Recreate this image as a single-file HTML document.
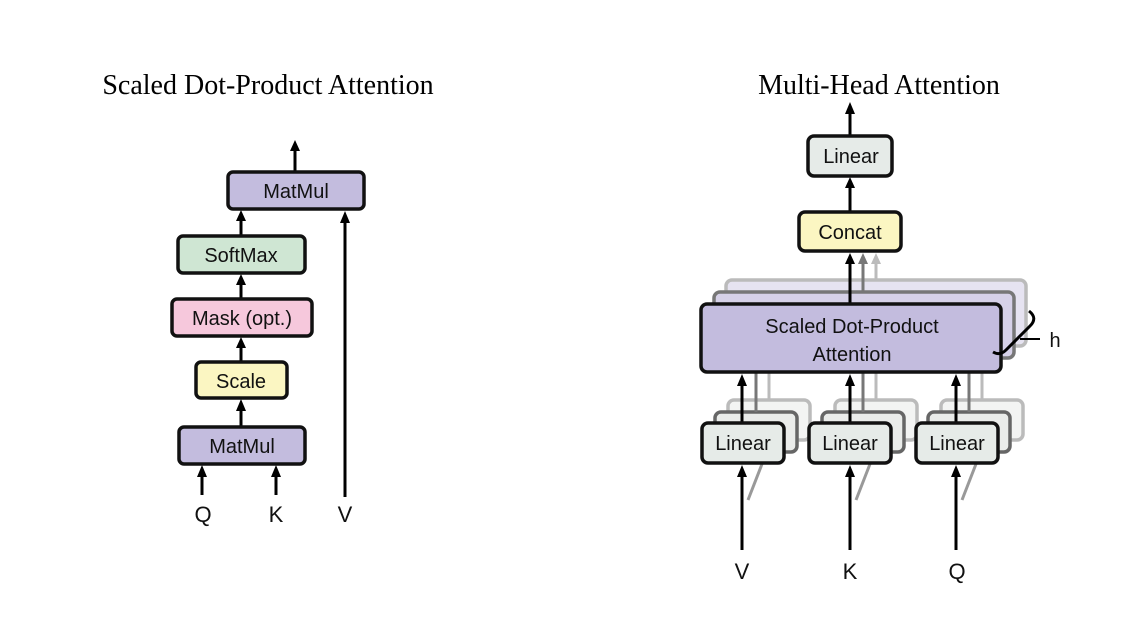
<!DOCTYPE html>
<html><head><meta charset="utf-8"><style>html,body{margin:0;padding:0;background:#fff}svg{display:block}</style></head>
<body>
<svg width="1124" height="644" viewBox="0 0 1124 644" xmlns="http://www.w3.org/2000/svg">
<defs>
<marker id="ah" markerWidth="4" markerHeight="4" refX="2" refY="3" orient="auto-start-reverse" viewBox="0 0 4 4" markerUnits="strokeWidth">
</marker>
</defs>
<g font-family="Liberation Serif, serif" font-size="28" fill="#000" text-anchor="middle">
<text x="268" y="94">Scaled Dot-Product Attention</text>
<text x="879" y="94">Multi-Head Attention</text>
</g>
<!-- LEFT -->
<g stroke="#000" stroke-width="3" fill="none">
<line x1="295" y1="172" x2="295" y2="148"/>
<line x1="345" y1="497" x2="345" y2="222"/>
<line x1="241" y1="236" x2="241" y2="220"/>
<line x1="241" y1="299" x2="241" y2="284"/>
<line x1="241" y1="362" x2="241" y2="347"/>
<line x1="241" y1="427" x2="241" y2="410"/>
<line x1="202" y1="495" x2="202" y2="476"/>
<line x1="276" y1="495" x2="276" y2="476"/>
</g>
<g fill="#000">
<polygon points="295,140 290,151 300,151"/>
<polygon points="345,211 340,223 350,223"/>
<polygon points="241,210 236,221 246,221"/>
<polygon points="241,274 236,285 246,285"/>
<polygon points="241,337 236,348 246,348"/>
<polygon points="241,399 236,411 246,411"/>
<polygon points="202,465 197,477 207,477"/>
<polygon points="276,465 271,477 281,477"/>
</g>
<g stroke="#111" stroke-width="3.5">
<rect x="228" y="172" width="136" height="37" rx="5" fill="#c3bcde"/>
<rect x="178" y="236" width="127" height="37" rx="5" fill="#cfe6d3"/>
<rect x="172" y="299" width="140" height="37" rx="5" fill="#f6c8dc"/>
<rect x="196" y="362" width="91" height="36" rx="5" fill="#fbf6c2"/>
<rect x="179" y="427" width="126" height="37" rx="5" fill="#c3bcde"/>
</g>
<g font-family="Liberation Sans, sans-serif" font-size="20" fill="#111" text-anchor="middle">
<text x="296" y="198">MatMul</text>
<text x="241" y="262">SoftMax</text>
<text x="242" y="325">Mask (opt.)</text>
<text x="241" y="388">Scale</text>
<text x="242" y="453">MatMul</text>
<text x="203" y="522" font-size="22">Q</text>
<text x="276" y="522" font-size="22">K</text>
<text x="345" y="522" font-size="22">V</text>
</g>
<!-- RIGHT -->
<!-- shadows of SDPA -->
<rect x="726" y="280" width="300" height="66" rx="6" fill="#e6e3f1" stroke="#bbb" stroke-width="3.5"/>
<rect x="714" y="292" width="300" height="66" rx="6" fill="#d6d1e8" stroke="#777" stroke-width="3.5"/>
<!-- linear shadows -->
<g stroke-width="3.5">
<rect x="728" y="400" width="82" height="40" rx="6" fill="#f3f4f3" stroke="#bbb"/>
<rect x="715" y="412" width="82" height="40" rx="6" fill="#eaecea" stroke="#666"/>
<rect x="835" y="400" width="82" height="40" rx="6" fill="#f3f4f3" stroke="#bbb"/>
<rect x="822" y="412" width="82" height="40" rx="6" fill="#eaecea" stroke="#666"/>
<rect x="941" y="400" width="82" height="40" rx="6" fill="#f3f4f3" stroke="#bbb"/>
<rect x="928" y="412" width="82" height="40" rx="6" fill="#eaecea" stroke="#666"/>
</g>
<!-- shadow connectors -->
<g stroke-width="3">
<line x1="769" y1="400" x2="769" y2="358" stroke="#bbb"/>
<line x1="756" y1="412" x2="756" y2="370" stroke="#777"/>
<line x1="876" y1="400" x2="876" y2="358" stroke="#bbb"/>
<line x1="863" y1="412" x2="863" y2="370" stroke="#777"/>
<line x1="982" y1="400" x2="982" y2="358" stroke="#bbb"/>
<line x1="969" y1="412" x2="969" y2="370" stroke="#777"/>
<line x1="876" y1="280" x2="876" y2="262" stroke="#bbb"/>
<line x1="863" y1="292" x2="863" y2="262" stroke="#777"/>
<line x1="748" y1="500" x2="762" y2="464" stroke="#999"/>
<line x1="856" y1="500" x2="870" y2="464" stroke="#999"/>
<line x1="962" y1="500" x2="976" y2="464" stroke="#999"/>
</g>
<polygon points="876,253 871,264 881,264" fill="#bbb"/>
<polygon points="863,253 858,264 868,264" fill="#777"/>
<g stroke="#000" stroke-width="3">
<line x1="850" y1="135" x2="850" y2="112"/>
<line x1="850" y1="212" x2="850" y2="186"/>
<line x1="850" y1="304" x2="850" y2="262"/>
<line x1="742" y1="423" x2="742" y2="384"/>
<line x1="850" y1="423" x2="850" y2="384"/>
<line x1="956" y1="423" x2="956" y2="384"/>
<line x1="742" y1="550" x2="742" y2="475"/>
<line x1="850" y1="550" x2="850" y2="475"/>
<line x1="956" y1="550" x2="956" y2="475"/>
</g>
<g fill="#000">
<polygon points="850,102 845,114 855,114"/>
<polygon points="850,177 845,188 855,188"/>
<polygon points="850,253 845,264 855,264"/>
<polygon points="742,374 737,386 747,386"/>
<polygon points="850,374 845,386 855,386"/>
<polygon points="956,374 951,386 961,386"/>
<polygon points="742,465 737,477 747,477"/>
<polygon points="850,465 845,477 855,477"/>
<polygon points="956,465 951,477 961,477"/>
</g>
<g stroke="#111" stroke-width="3.5">
<rect x="808" y="136" width="84" height="40" rx="6" fill="#e6ebe8"/>
<rect x="799" y="212" width="102" height="39" rx="6" fill="#fbf6c2"/>
<rect x="701" y="304" width="300" height="68" rx="6" fill="#c3bcde"/>
<rect x="702" y="423" width="82" height="40" rx="6" fill="#e6ebe8"/>
<rect x="809" y="423" width="82" height="40" rx="6" fill="#e6ebe8"/>
<rect x="916" y="423" width="82" height="40" rx="6" fill="#e6ebe8"/>
</g>
<path d="M1029,311 Q1038,318 1030,326 L1006,350 Q1000,356 993,352" fill="none" stroke="#000" stroke-width="3"/>
<line x1="1020" y1="339" x2="1040" y2="339" stroke="#000" stroke-width="2"/>
<g font-family="Liberation Sans, sans-serif" font-size="20" fill="#111" text-anchor="middle">
<text x="851" y="163">Linear</text>
<text x="850" y="239">Concat</text>
<text x="852" y="333">Scaled Dot-Product</text>
<text x="852" y="361">Attention</text>
<text x="743" y="450">Linear</text>
<text x="850" y="450">Linear</text>
<text x="957" y="450">Linear</text>
<text x="1055" y="347">h</text>
<text x="742" y="579" font-size="22">V</text>
<text x="850" y="579" font-size="22">K</text>
<text x="957" y="579" font-size="22">Q</text>
</g>
</svg>
</body></html>
